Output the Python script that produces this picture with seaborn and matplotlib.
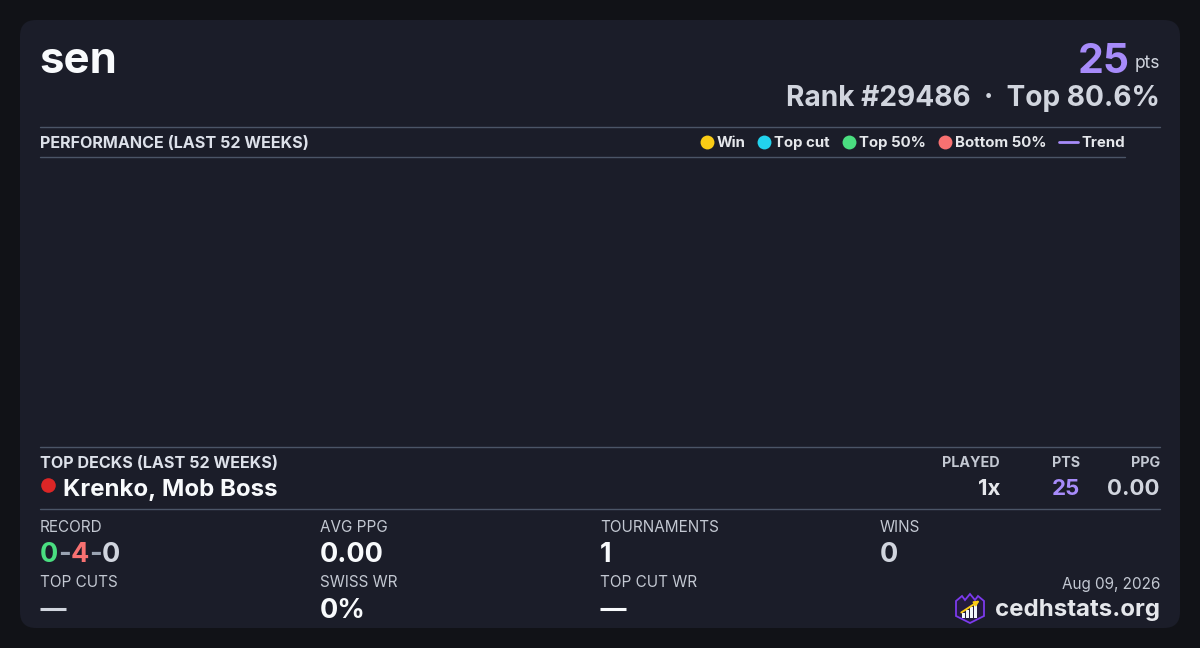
import matplotlib
matplotlib.use("Agg")
import matplotlib.pyplot as plt
import seaborn as sns
import pandas as pd
from matplotlib.patches import FancyBboxPatch, Polygon, Rectangle

# ---------------- data ----------------
player_name = "sen"
total_points = "25"
rank_text = "Rank #29486"
top_pct_text = "Top 80.6%"
perf_title = "PERFORMANCE (LAST 52 WEEKS)"
legend_labels = ["Win", "Top cut", "Top 50%", "Bottom 50%"]
legend_colors = ["#facc15", "#22d3ee", "#4ade80", "#f87171"]
trend_label = "Trend"
trend_color = "#a78bfa"
# weekly performance series (empty in reference)
perf_weeks = []
perf_points = []

decks_title = "TOP DECKS (LAST 52 WEEKS)"
deck_names = ["Krenko, Mob Boss"]
deck_colors = ["#dc2626"]
deck_played = ["1x"]
deck_pts = ["25"]
deck_ppg = ["0.00"]

record_w, record_l, record_d = "0", "4", "0"
stat_labels_row1 = ["RECORD", "AVG PPG", "TOURNAMENTS", "WINS"]
stat_values_row1 = [None, "0.00", "1", "0"]
stat_labels_row2 = ["TOP CUTS", "SWISS WR", "TOP CUT WR"]
stat_values_row2 = ["—", "0%", "—"]
date_text = "Aug 09, 2026"
site_text = "cedhstats.org"

# ---------------- style ----------------
sns.set_theme(style="dark")
plt.rcParams["font.family"] = ["Inter", "DejaVu Sans"]

OUTER = "#111217"
CARD = "#1b1d29"
LINE = "#4b5567"
WHITE = "#f8fafc"
LIGHT = "#d1d5de"
LABEL = "#c3c8d2"

fig = plt.figure(figsize=(12, 6.48), dpi=100, facecolor=OUTER)
ax = fig.add_axes([0, 0, 1, 1])
ax.set_xlim(0, 1200)
ax.set_ylim(648, 0)
ax.axis("off")
ax.set_facecolor(OUTER)

card = FancyBboxPatch((20, 20), 1160, 608, boxstyle="round,pad=0,rounding_size=16",
                      facecolor=CARD, edgecolor="none")
ax.add_patch(card)

renderer = fig.canvas.get_renderer()
inv = ax.transData.inverted()


def width_of(t):
    bb = t.get_window_extent(renderer=renderer)
    p0 = inv.transform((bb.x0, bb.y0))
    p1 = inv.transform((bb.x1, bb.y1))
    return p1[0] - p0[0]


def txt(x, y, s, size, color, weight="normal", ha="left"):
    return ax.text(x, y, s, fontsize=size, color=color, fontweight=weight,
                   ha=ha, va="baseline")

# header
txt(39, 73, player_name, 31.5, WHITE, "bold")
pts = txt(1160, 68, "pts", 12.5, LIGHT, ha="right")
w = width_of(pts)
txt(1160 - w - 5, 73, total_points, 29.5, trend_color, "bold", ha="right")
txt(1160, 106, rank_text + "  ·  " + top_pct_text, 20.2, LIGHT, "bold", ha="right")

# performance section
ax.plot([40, 1160], [126.5, 126.5], color=LINE, lw=1)
ax.plot([40, 1125], [156.5, 156.5], color=LINE, lw=1)
txt(40, 148, perf_title, 11.6, "#dde1ea", "bold")

x = 1125
t = txt(x, 147, trend_label, 10.8, "#e5e7eb", "bold", ha="right")
x -= width_of(t) + 3
ax.plot([x - 19, x], [142, 142], color=trend_color, lw=2)
x -= 19 + 13
for lab, col in zip(legend_labels[::-1], legend_colors[::-1]):
    t = txt(x, 147, lab, 10.8, "#e5e7eb", "bold", ha="right")
    x -= width_of(t) + 3.5
    ax.plot([x - 6.5], [141.5], marker="o", ms=10, color=col, mec="none")
    x -= 13 + 12.5

# empty performance chart drawn through seaborn
pax = fig.add_axes([40 / 1200, 1 - 446 / 648, 1085 / 1200, 289 / 648])
perf_df = pd.DataFrame({"week": pd.Series(perf_weeks, dtype=float),
                        "points": pd.Series(perf_points, dtype=float)})
sns.lineplot(data=perf_df, x="week", y="points", ax=pax, color=trend_color)
pax.axis("off")
pax.patch.set_alpha(0)

# top decks
ax.plot([40, 1160], [446.5, 446.5], color=LINE, lw=1)
txt(40, 468, decks_title, 11.6, "#dde1ea", "bold")
txt(1000, 467, "PLAYED", 10.3, LABEL, "bold", ha="right")
txt(1080, 467, "PTS", 10.3, LABEL, "bold", ha="right")
txt(1160, 467, "PPG", 10.3, LABEL, "bold", ha="right")
for i, (nm, col, pl, pt, pg) in enumerate(zip(deck_names, deck_colors, deck_played, deck_pts, deck_ppg)):
    yb = 496 + i * 30
    ax.plot([48], [yb - 11], marker="o", ms=10.5, color=col, mec="none")
    txt(63, yb, nm, 17.3, WHITE, "bold")
    txt(1000, yb - 1, pl, 16, "#e5e7eb", "bold", ha="right")
    txt(1080, yb - 1, pt, 16, trend_color, "bold", ha="right")
    txt(1160, yb - 1, pg, 16, LIGHT, "bold", ha="right")
ax.plot([40, 1160], [508.5, 508.5], color=LINE, lw=1)

# stats grid
cols = [40, 320, 600, 880]
for cx, lab in zip(cols, stat_labels_row1):
    txt(cx, 532, lab, 11, LABEL)
# record
x = 40
for s, c in [(record_w, "#4ade80"), ("-", "#9aa3b2"), (record_l, "#f87171"),
             ("-", "#9aa3b2"), (record_d, LIGHT)]:
    t = txt(x, 562, s, 19.5, c, "bold")
    x += width_of(t)
txt(320, 562, stat_values_row1[1], 19.5, WHITE, "bold")
txt(600, 562, stat_values_row1[2], 19.5, WHITE, "bold")
txt(880, 562, stat_values_row1[3], 19.5, LIGHT, "bold")

for cx, lab in zip(cols, stat_labels_row2):
    txt(cx, 587, lab, 11, LABEL)
for cx, val in zip(cols, stat_values_row2):
    if val == "—":
        c = LIGHT if cx == 40 else WHITE
        ax.plot([cx, cx + 26], [609, 609], color=c, lw=2.2, solid_capstyle="butt")
    else:
        txt(cx, 618, val, 19.5, WHITE, "bold")

# footer
txt(1160, 589, date_text, 11, LABEL, ha="right")
st = txt(1160, 616, site_text, 17.3, "#e5e7eb", "bold", ha="right")
lx = 1160 - width_of(st) - 11
# logo (shield with bars and arrow)
shield = Polygon([[lx - 28, 601], [lx - 22, 596], [lx - 19, 600], [lx - 14, 594],
                  [lx - 9, 600], [lx - 6, 596], [lx, 601], [lx, 616],
                  [lx - 14, 623], [lx - 28, 616]],
                 closed=True, facecolor="#241b3d", edgecolor="#7c3aed", lw=1.3)
ax.add_patch(shield)
for bx, bh in [(lx - 22, 5), (lx - 18, 8), (lx - 14, 11), (lx - 10, 14)]:
    ax.add_patch(Rectangle((bx, 618 - bh), 2.6, bh, facecolor="#f1f5f9", edgecolor="none"))
ax.annotate("", xy=(lx - 2, 599), xytext=(lx - 25, 614),
            arrowprops=dict(arrowstyle="-|>", color="#facc15", lw=1.4, mutation_scale=7))

fig.savefig("out.png", dpi=100, facecolor=OUTER)
